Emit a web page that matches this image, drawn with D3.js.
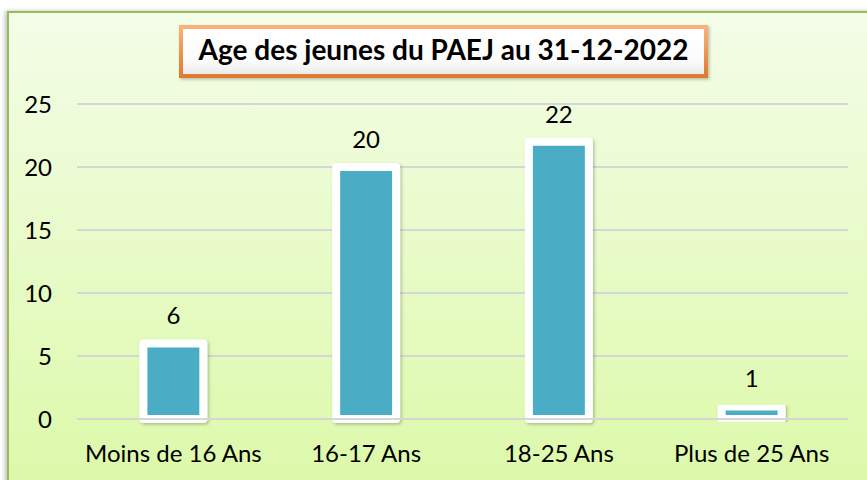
<!DOCTYPE html>
<html>
<head>
<meta charset="utf-8">
<script src="https://cdn.jsdelivr.net/npm/d3@7/dist/d3.min.js"></script>
<style>
  html, body { margin: 0; padding: 0; background: #ffffff; }
  svg { display: block; }
  text { font-family: Lato, "Open Sans", sans-serif; fill: #000; }
</style>
</head>
<body>
<svg id="chart" width="867" height="480"></svg>
<script>
// Age groups of young people followed by the PAEJ on 31-12-2022
const categories = ["Moins de 16 Ans", "16-17 Ans", "18-25 Ans", "Plus de 25 Ans"];
const values = [6, 20, 22, 1];
const yTicks = [0, 5, 10, 15, 20, 25];
const title = "Age des jeunes du PAEJ au 31-12-2022";

const svg = d3.select("#chart");
const defs = svg.append("defs");

// Chart area background: pale green vertical gradient
const bg = defs.append("linearGradient").attr("id", "bgGrad")
  .attr("x1", 0).attr("y1", 0).attr("x2", 0).attr("y2", 1);
bg.append("stop").attr("offset", "0%").attr("stop-color", "#f4fde8");
bg.append("stop").attr("offset", "100%").attr("stop-color", "#dbf9a7");

// Title box fill
const tg = defs.append("linearGradient").attr("id", "titleGrad")
  .attr("x1", 0).attr("y1", 0).attr("x2", 0).attr("y2", 1);
tg.append("stop").attr("offset", "0%").attr("stop-color", "#ffffff");
tg.append("stop").attr("offset", "70%").attr("stop-color", "#fbfbfb");
tg.append("stop").attr("offset", "100%").attr("stop-color", "#e9e9e9");

// Title box border
const ob = defs.append("linearGradient").attr("id", "orangeGrad")
  .attr("x1", 0).attr("y1", 0).attr("x2", 0).attr("y2", 1);
ob.append("stop").attr("offset", "0%").attr("stop-color", "#f9b27a");
ob.append("stop").attr("offset", "100%").attr("stop-color", "#e07a2e");

// Soft shadows
const sh = defs.append("filter").attr("id", "shadow")
  .attr("x", "-10%").attr("y", "-10%").attr("width", "130%").attr("height", "130%");
sh.append("feDropShadow").attr("dx", 1.5).attr("dy", 1.5).attr("stdDeviation", 1.5)
  .attr("flood-color", "#000").attr("flood-opacity", 0.25);

const chartShadow = defs.append("filter").attr("id", "chartShadow")
  .attr("x", "-5%").attr("y", "-5%").attr("width", "110%").attr("height", "110%");
chartShadow.append("feDropShadow").attr("dx", -2).attr("dy", 0).attr("stdDeviation", 2)
  .attr("flood-color", "#000").attr("flood-opacity", 0.25);

// Chart frame
svg.append("rect")
  .attr("x", 8).attr("y", 12).attr("width", 880).attr("height", 490)
  .attr("fill", "url(#bgGrad)")
  .attr("stroke", "#9bbb59").attr("stroke-width", 2)
  .attr("filter", "url(#chartShadow)");

// Scales
const x = d3.scaleBand().domain(categories).range([77, 848]).padding(0);
const y = d3.scaleLinear().domain([0, 25]).range([419, 104]);
const barW = x.bandwidth() * 0.311;

// Gridlines
svg.append("g").selectAll("line")
  .data(yTicks.filter(d => d !== 0))
  .join("line")
  .attr("x1", 77).attr("x2", 848)
  .attr("y1", d => y(d)).attr("y2", d => y(d))
  .attr("stroke", "#d6d6d6").attr("stroke-width", 2);

// Y axis tick labels
const yAxis = d3.axisLeft(y).tickValues(yTicks).tickSize(0).tickPadding(0);
const yg = svg.append("g").attr("transform", "translate(52,0)").call(yAxis);
yg.select(".domain").remove();
yg.selectAll("text")
  .attr("font-family", "Lato, sans-serif")
  .attr("font-size", 24)
  .attr("fill", "#000")
  .attr("dy", "0.35em");

// Bars: blue fill with a thick white rounded frame
svg.append("g").selectAll("rect")
  .data(values)
  .join("rect")
  .attr("x", (d, i) => x(categories[i]) + x.bandwidth() / 2 - barW / 2)
  .attr("y", d => y(d))
  .attr("width", barW)
  .attr("height", d => y(0) - y(d))
  .attr("fill", "#4bacc6")
  .attr("stroke", "#ffffff")
  .attr("stroke-width", 8)
  .attr("stroke-linejoin", "round")
  .attr("filter", "url(#shadow)");

// Baseline drawn over the bars
svg.append("line")
  .attr("x1", 77).attr("x2", 848)
  .attr("y1", y(0)).attr("y2", y(0))
  .attr("stroke", "#d6d6d6").attr("stroke-width", 2);

// Value labels
svg.append("g").selectAll("text")
  .data(values)
  .join("text")
  .attr("x", (d, i) => x(categories[i]) + x.bandwidth() / 2)
  .attr("y", d => y(d) - 19)
  .attr("text-anchor", "middle")
  .attr("font-size", 24)
  .text(d => d);

// Category labels
const xAxis = d3.axisBottom(x).tickSize(0).tickPadding(0);
const xg = svg.append("g").attr("transform", "translate(0,462)").call(xAxis);
xg.select(".domain").remove();
xg.selectAll("text")
  .attr("font-family", "Lato, sans-serif")
  .attr("font-size", 24)
  .attr("fill", "#000")
  .attr("dy", 0);

// Title box
svg.append("rect")
  .attr("x", 181).attr("y", 27).attr("width", 525).attr("height", 49)
  .attr("fill", "url(#titleGrad)")
  .attr("stroke", "url(#orangeGrad)").attr("stroke-width", 4)
  .attr("filter", "url(#shadow)");
svg.append("text")
  .attr("x", 443.5).attr("y", 60)
  .attr("text-anchor", "middle")
  .attr("font-size", 28)
  .attr("font-weight", "bold")
  .text(title);
</script>
</body>
</html>
